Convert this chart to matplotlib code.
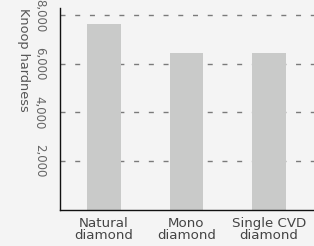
import matplotlib.pyplot as plt
from matplotlib.ticker import FuncFormatter

categories = ['Natural\ndiamond', 'Mono\ndiamond', 'Single CVD\ndiamond']
hardness = [7650, 6450, 6450]
yticks = [2000, 4000, 6000, 8000]

bg = '#f4f4f4'
fig = plt.figure(figsize=(3.14, 2.46), dpi=100, facecolor=bg)
ax = fig.add_axes([0.19, 0.148, 0.81, 0.819], facecolor=bg)

x = range(len(categories))
ax.bar(x, hardness, width=0.41, color='#c9cac9', zorder=2)

ax.set_xlim(-0.54, 2.55)
ax.set_ylim(0, 8300)
ax.set_yticks(yticks)
ax.yaxis.set_major_formatter(FuncFormatter(lambda v, p: f'{int(v):,}'))
ax.set_xticks(list(x))
ax.set_xticklabels(categories, fontsize=9.6, color='#444444', linespacing=0.9)
for lab in ax.get_yticklabels():
    lab.set_rotation(-90)
    lab.set_va('center')
    lab.set_fontsize(8.5)
    lab.set_color('#666666')
ax.tick_params(axis='both', length=0)
ax.tick_params(axis='y', pad=10)
ax.tick_params(axis='x', pad=5)

for y in yticks:
    ax.axhline(y, color='#7a7a7a', lw=1, dashes=(3.6, 7), zorder=1)

for s in ['top', 'right']:
    ax.spines[s].set_visible(False)
for s in ['left', 'bottom']:
    ax.spines[s].set_color('#111111')
    ax.spines[s].set_linewidth(1)

fig.text(23 / 314, 1 - 8 / 246, 'Knoop hardness', rotation=-90, fontsize=9.3,
         color='#555555', ha='center', va='top')

fig.savefig('out.png', dpi=100, facecolor=bg)
